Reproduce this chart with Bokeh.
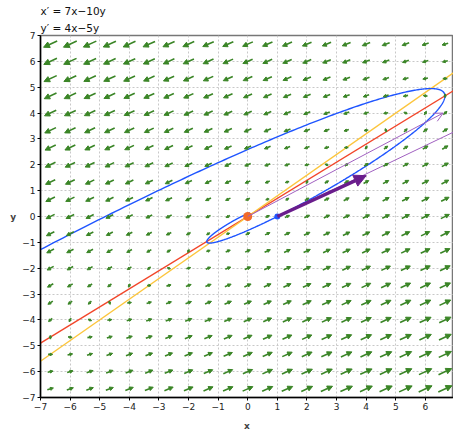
import numpy as np
from bokeh.plotting import figure
from bokeh.models import (Arrow, NormalHead, OpenHead, ColumnDataSource, Title,
                          FixedTicker, Range1d)
from bokeh.embed import file_html
from bokeh.resources import INLINE

# ---- data ----
A = [[7, -10], [4, -5]]            # x' = 7x-10y, y' = 4x-5y
title_lines = ["x\u2032 = 7x\u221210y", "y\u2032 = 4x\u22125y"]
ticks = [-7, -6, -5, -4, -3, -2, -1, 0, 1, 2, 3, 4, 5, 6, 7]
grid_n = 21                          # arrows per axis
start_pt = [1.0, 0.0]                # blue point
equil_pt = [0.0, 0.0]                # orange point
t_span = [-1.8, 1.66]                # trajectory time span
nullcline_x = [-7, 7]
upper_tip = [6.6, 4.0]               # thin purple arrow from origin
lower_end = [8.0, 3.84]              # thin purple line from start point
thick_tip = [4.0, 1.58]              # thick purple arrow from start point

M = np.array(A, dtype=float)
xmin, xmax, ymin, ymax = -7, 6.95, -7, 7
FW, FH = 413, 362
sx, sy = FW / (xmax - xmin), FH / (ymax - ymin)

p = figure(frame_width=FW, frame_height=FH, output_backend="svg", toolbar_location=None,
           x_range=Range1d(xmin, xmax), y_range=Range1d(ymin, ymax),
           title=title_lines[0], min_border=0, min_border_left=40, min_border_right=0,
           min_border_top=35, min_border_bottom=35)
p.add_layout(Title(text=title_lines[1], align="left", text_font="DejaVu Sans",
                   text_font_size="10.5px", text_font_style="normal", standoff=3,
                   text_color="#111111"), "above")
p.title.align = "left"
p.title.text_font = "DejaVu Sans"
p.title.text_font_size = "10.5px"
p.title.text_font_style = "normal"
p.title.standoff = 3
p.title.text_color = "#111111"

p.outline_line_color = "#777777"
p.outline_line_width = 1.5
for ax in (p.xaxis, p.yaxis):
    ax.ticker = FixedTicker(ticks=ticks)
    ax.major_label_overrides = {float(t): (str(t).replace("-", "\u2212")) for t in ticks}
    ax.major_label_text_font = "DejaVu Sans"
    ax.major_label_text_font_size = "9px"
    ax.major_label_text_color = "#222222"
    ax.axis_line_color = "black"
    ax.axis_line_width = 1.5
    ax.major_tick_line_color = "black"
    ax.major_tick_in = 0
    ax.major_tick_out = 3
    ax.minor_tick_line_color = None
    ax.axis_label_text_font = "DejaVu Sans"
    ax.axis_label_text_font_size = "9px"
    ax.axis_label_text_font_style = "bold"
    ax.major_label_standoff = 2
p.xaxis.axis_label = "x"
p.yaxis.axis_label = "y"
p.yaxis.axis_label_orientation = "horizontal"
p.xaxis.axis_label_standoff = 8
p.yaxis.axis_label_standoff = 3
p.grid.grid_line_color = "#c8c8c8"
p.grid.grid_line_dash = "2 2"
p.grid.grid_line_width = 1
p.xgrid.ticker = FixedTicker(ticks=ticks)
p.ygrid.ticker = FixedTicker(ticks=ticks)

# ---- vector field ----
centers = -7 + (np.arange(grid_n) + 0.5) * 14 / grid_n
GX, GY = np.meshgrid(centers, centers)
GX, GY = GX.ravel(), GY.ravel()
VX = M[0, 0] * GX + M[0, 1] * GY
VY = M[1, 0] * GX + M[1, 1] * GY
mag = np.hypot(VX, VY)
L = 3 + 12 * (mag / mag.max()) ** 0.7       # length in px
px, py = VX * sx, VY * sy
pn = np.hypot(px, py)
ux, uy = px / pn, py / pn
dx, dy = L * ux / sx, L * uy / sy
src = ColumnDataSource(dict(x0=GX - dx / 2, y0=GY - dy / 2, x1=GX + dx / 2, y1=GY + dy / 2,
                            hs=0.33 * L + 1.0))
green = "#3a8526"
p.add_layout(Arrow(x_start="x0", y_start="y0", x_end="x1", y_end="y1", source=src,
                   line_color=green, line_width=1.6,
                   end=NormalHead(size="hs", fill_color=green, line_color=green, line_width=1)))

# ---- nullclines ----
nx = np.array(nullcline_x, dtype=float)
p.line(nx, -M[0, 0] / M[0, 1] * nx, line_color="#f2462a", line_width=1.4)   # x' = 0
p.line(nx, -M[1, 0] / M[1, 1] * nx, line_color="#fcc53c", line_width=1.4)   # y' = 0

# ---- trajectory through start point ----
t = np.linspace(t_span[0], t_span[1], 800)
B = (M - np.eye(2)) / 2
x0v = np.array(start_pt)
Bx = B @ x0v
trx = np.exp(t) * (np.cos(2 * t) * x0v[0] + np.sin(2 * t) * Bx[0])
tr_y = np.exp(t) * (np.cos(2 * t) * x0v[1] + np.sin(2 * t) * Bx[1])
p.line(trx, tr_y, line_color="#1f55ff", line_width=1.4)

# ---- purple vectors ----
purple_l = "#a060c0"
p.add_layout(Arrow(x_start=equil_pt[0], y_start=equil_pt[1], x_end=upper_tip[0], y_end=upper_tip[1],
                   line_color=purple_l, line_width=1,
                   end=OpenHead(size=9, line_color=purple_l, line_width=1)))
p.segment(x0=[start_pt[0]], y0=[start_pt[1]], x1=[lower_end[0]], y1=[lower_end[1]],
          line_color=purple_l, line_width=1)
purple_d = "#6a1d8c"
p.add_layout(Arrow(x_start=start_pt[0], y_start=start_pt[1],
                   x_end=thick_tip[0], y_end=thick_tip[1],
                   line_color=purple_d, line_width=3.5,
                   end=NormalHead(size=12, fill_color=purple_d, line_color=purple_d)))

# ---- points ----
p.scatter([equil_pt[0]], [equil_pt[1]], size=9, fill_color="#f26a2a", line_color=None)
p.scatter([start_pt[0]], [start_pt[1]], size=6, fill_color="#1f55ff", line_color=None)

open("out.html", "w").write(file_html(p, INLINE))
